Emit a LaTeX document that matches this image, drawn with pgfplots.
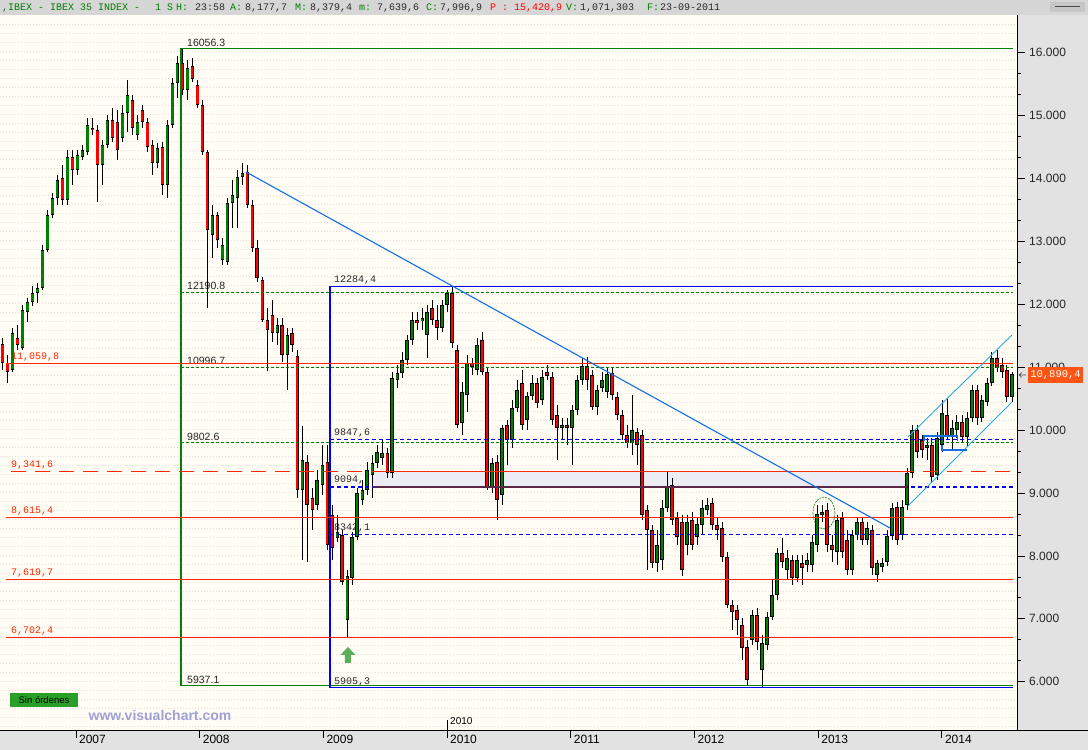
\documentclass[border=0pt]{standalone}
\usepackage{pgfplots}
\pgfplotsset{compat=1.18}
\usepackage{pgfplotstable}
\usepackage{fontspec}
\setmainfont{Liberation Sans}
\newfontfamily\monofont{Liberation Mono}

\definecolor{fibgreen}{RGB}{0,128,0}
\definecolor{fibblue}{RGB}{0,0,255}
\definecolor{lvlred}{RGB}{255,40,0}
\definecolor{trendblue}{RGB}{20,110,230}
\definecolor{chanblue}{RGB}{40,170,230}
\definecolor{candlered}{RGB}{255,0,0}
\definecolor{candlegreen}{RGB}{0,128,0}
\definecolor{panelgray}{RGB}{226,226,226}
\definecolor{headgray}{RGB}{214,214,214}
\definecolor{plotbg}{RGB}{255,253,244}
\definecolor{dotpink}{RGB}{244,214,224}
\definecolor{bandgray}{RGB}{236,236,244}
\definecolor{banddark}{RGB}{90,40,70}
\definecolor{tagorange}{RGB}{255,85,20}
\definecolor{hdrgreen}{RGB}{0,128,0}
\definecolor{hdrdark}{RGB}{40,40,40}
\definecolor{watermark}{RGB}{160,160,215}
\definecolor{boxgreen}{RGB}{40,160,40}
\definecolor{arrowgreen}{RGB}{90,175,90}
\definecolor{circgreen}{RGB}{0,110,0}

\tikzset{
  lbl/.style={anchor=south west, inner sep=0pt, yshift=2bp, font=\fontsize{10.5bp}{12bp}\selectfont},
  mlbl/.style={anchor=south west, inner sep=0pt, yshift=2bp, font=\monofont\fontsize{10bp}{12bp}\selectfont},
}
\pgfplotsset{
  lvl/.style={forget plot, mark=none, line width=1.1bp, solid, #1},
}

% weekly IBEX 35 candles, sampled every two weeks: x o h l c
\pgfplotstableread{
x o h l c
2006.406 11366 11462 10953 11064
2006.446 11064 11192 10746 10921
2006.487 10953 11620 10921 11541
2006.527 11462 11668 11271 11351
2006.568 11303 11986 11271 11906
2006.608 11874 12097 11715 12033
2006.648 12033 12288 11970 12176
2006.689 12176 12335 12017 12256
2006.729 12256 12939 12224 12860
2006.770 12860 13495 12828 13416
2006.810 13416 13765 13368 13686
2006.850 13686 14051 13575 13972
2006.891 14004 14210 13575 13654
2006.931 13654 14448 13575 14337
2006.972 14337 14448 13893 14130
2007.012 14130 14448 14051 14369
2007.052 14337 14528 14289 14448
2007.093 14416 14957 14369 14846
2007.133 14798 14957 14687 14766
2007.174 14766 14846 13622 14210
2007.214 14210 14607 13893 14528
2007.254 14528 15005 14480 14925
2007.295 14925 15115 14575 14639
2007.335 14893 15084 14289 14448
2007.376 14639 15163 14575 15036
2007.416 15036 15560 14734 15322
2007.456 15242 15322 14687 14798
2007.497 14687 15005 14607 14893
2007.537 15084 15163 14798 14893
2007.578 14893 14957 14416 14496
2007.618 14528 14607 14051 14241
2007.658 14241 14559 14162 14480
2007.699 14496 14575 13734 13893
2007.739 13893 14925 13686 14846
2007.780 14846 15592 14798 15512
2007.820 15512 15942 15274 15830
2007.860 15830 16056 15322 15401
2007.901 15401 15878 15242 15751
2007.941 15783 15910 15528 15576
2007.982 15481 15560 15116 15163
2008.022 15163 15242 14369 14416
2008.062 14416 14448 11938 13177
2008.103 13098 13575 12733 13416
2008.143 13416 13463 12891 13018
2008.184 12701 13050 12621 12939
2008.224 12669 13686 12621 13606
2008.264 13606 13972 13209 13734
2008.305 13686 14130 13209 14019
2008.345 14019 14241 13893 14082
2008.386 14098 14210 13527 13575
2008.426 13575 13654 12828 12891
2008.466 12891 13018 12351 12415
2008.507 12383 12431 11715 11747
2008.547 11747 11938 10937 11589
2008.588 11827 12065 11398 11541
2008.628 11541 11779 11351 11668
2008.668 11668 11779 11080 11192
2008.709 11192 11620 10635 11510
2008.749 11541 11620 11239 11351
2008.790 11176 11271 8920 9047
2008.830 9047 10064 7935 9523
2008.870 9491 9603 7903 8809
2008.911 8920 9079 8411 8729
2008.951 8809 9365 8729 9206
2008.992 9127 9762 8968 9444
2009.032 9491 9762 8094 8173
2009.072 8650 8809 7935 8126
2009.113 8284 8650 8221 8379
2009.153 8332 8411 7538 7585
2009.194 6982 7776 6702 7681
2009.234 7649 8379 7538 8300
2009.274 8300 9079 8253 9000
2009.315 8888 9206 8809 9047
2009.355 9047 9491 8968 9365
2009.396 9285 9603 8920 9476
2009.436 9476 9762 9397 9650
2009.476 9555 9841 9444 9635
2009.517 9635 9714 9238 9317
2009.557 9317 10921 9238 10826
2009.598 10794 11032 10667 10905
2009.638 10905 11239 10826 11112
2009.678 11112 11510 11032 11430
2009.719 11430 11874 11351 11747
2009.759 11747 11874 11589 11700
2009.800 11731 11938 11589 11779
2009.840 11510 11986 11144 11874
2009.880 11938 12065 11668 11747
2009.921 11747 11986 11430 11620
2009.961 11620 12065 11557 11986
2010.002 11986 12224 11874 12176
2010.042 12176 12284 11303 11382
2010.082 11271 11351 10032 10080
2010.123 10112 10762 9921 10603
2010.163 10556 11192 10286 11064
2010.204 11064 11144 10874 11001
2010.244 10953 11462 10874 11351
2010.284 11430 11557 10874 10921
2010.325 10921 10985 9047 9095
2010.365 9095 9555 9000 9476
2010.406 9491 9603 8570 8888
2010.446 8968 10080 8809 10032
2010.486 10080 10159 9444 9841
2010.527 9841 10477 9714 10350
2010.567 10350 10794 10286 10635
2010.608 10746 10953 10000 10080
2010.648 10159 10603 10000 10540
2010.688 10540 10874 10477 10746
2010.729 10746 10826 10350 10429
2010.769 10477 10953 10397 10842
2010.810 10921 11032 10794 10858
2010.850 10842 10921 10080 10159
2010.890 10238 10397 9523 10032
2010.931 10032 10191 9841 10080
2010.971 10080 10191 9762 10032
2011.012 10032 10397 9444 10318
2011.052 10318 10874 10238 10794
2011.092 10794 11144 10715 11016
2011.133 11016 11160 10635 10794
2011.173 10874 10953 10318 10366
2011.214 10366 10715 10238 10635
2011.254 10667 10921 10603 10794
2011.294 10603 10985 10508 10890
2011.335 10905 10985 10477 10556
2011.375 10524 10603 10159 10238
2011.416 10238 10318 9841 9921
2011.456 9921 10080 9714 9794
2011.496 9794 10556 9603 10000
2011.537 9968 10032 9444 9762
2011.577 9921 10000 8570 8650
2011.618 8729 8809 7776 8411
2011.658 8411 8491 7808 7887
2011.698 7887 8411 7744 8173
2011.739 7935 8888 7776 8761
2011.779 8761 9333 8697 9111
2011.820 9127 9238 8491 8570
2011.860 8602 8697 8173 8300
2011.900 8538 8650 7681 7776
2011.941 8173 8650 8015 8538
2011.981 8570 8697 8094 8173
2012.022 8300 8602 8173 8506
2012.062 8491 8888 8332 8761
2012.102 8729 8920 8650 8809
2012.143 8840 8920 8411 8491
2012.183 8491 8602 8253 8411
2012.224 8443 8538 7903 7983
2012.264 7983 8062 7173 7220
2012.304 7220 7299 6823 7109
2012.345 7141 7220 6744 6982
2012.385 6903 7014 6346 6537
2012.426 6553 6664 5937 6029
2012.466 6664 7141 6585 7061
2012.506 7061 7173 6505 6632
2012.547 6188 6744 5905 6616
2012.587 6585 7109 6505 7030
2012.628 7030 7617 6982 7379
2012.668 7379 8126 7299 8046
2012.708 8046 8284 7808 7903
2012.749 7776 8094 7617 7967
2012.789 7935 8015 7538 7649
2012.830 7649 8015 7585 7935
2012.870 7887 8015 7538 7808
2012.910 7856 8046 7744 7935
2012.951 7856 8332 7744 8221
2012.991 8173 8809 8062 8665
2013.032 8650 8809 8538 8697
2013.072 8729 8840 8062 8173
2013.112 8173 8332 7903 8094
2013.153 8062 8650 7856 8570
2013.193 8602 8697 7967 8062
2013.234 8253 8411 7697 7776
2013.274 7776 8411 7697 8332
2013.314 8332 8602 8253 8538
2013.355 8538 8602 8173 8253
2013.395 8253 8538 8173 8443
2013.436 8411 8491 7697 7808
2013.476 7697 7935 7585 7887
2013.516 7824 7967 7744 7887
2013.557 7903 8411 7840 8316
2013.597 8316 8840 8253 8761
2013.638 8777 8856 8173 8253
2013.678 8332 8888 8253 8777
2013.718 8809 9397 8729 9317
2013.759 9317 10080 9238 10000
2013.799 10000 10080 9555 9650
2013.840 9841 9921 9555 9682
2013.880 9714 9873 9523 9762
2013.920 9762 9873 9174 9254
2013.961 9285 9968 9206 9873
2014.001 9762 10477 9650 10270
2014.042 10238 10508 9841 9889
2014.082 9889 10159 9682 10032
2014.122 10000 10238 9873 10127
2014.163 10127 10238 9810 9889
2014.203 9889 10286 9730 10191
2014.244 10191 10715 10127 10635
2014.284 10635 10715 10080 10191
2014.324 10191 10556 10127 10477
2014.365 10445 10826 10381 10746
2014.405 10746 11239 10699 11144
2014.446 11144 11271 10921 10985
2014.486 11032 11144 10826 10921
2014.526 10953 11032 10445 10524
2014.567 10524 10921 10445 10890
}\candles

\begin{document}
\begin{tikzpicture}[x=1bp,y=1bp]
\path[use as bounding box] (0,0) rectangle (1088,750);
\fill[panelgray] (0,0) rectangle (1088,735);
\fill[plotbg] (0,20) rectangle (1017,735);
\fill[headgray] (0,735) rectangle (1088,750);
\foreach \yy in {24,33,...,732}
  \draw[dotpink, line width=0.7bp, dash pattern=on 0.8bp off 2.2bp] (0,\yy) -- (1016,\yy);

\begin{axis}[
  at={(0bp,20bp)}, anchor=south west,
  width=1017bp, height=715bp, scale only axis,
  xmin=2006.386, xmax=2014.608, ymin=5234, ymax=16593,
  scaled x ticks=false, scaled y ticks=false,
  axis x line*=bottom, axis y line*=right,
  axis line style={-, black, line width=0.9bp},
  xtick={2007,2008,...,2014},
  xticklabels={2007,2008,2009,2010,2011,2012,2013,2014},
  ytick={6000,7000,...,16000},
  yticklabels={6.000,7.000,8.000,9.000,10.000,11.000,12.000,13.000,14.000,15.000,16.000},
  minor y tick num=2,
  tick align=outside,
  major tick length=8bp, minor tick length=4bp,
  tick style={black, line width=0.7bp},
  xticklabel style={anchor=north west, inner sep=0pt, xshift=3bp, yshift=3bp, font=\fontsize{12bp}{13bp}\selectfont},
  yticklabel style={anchor=west, inner sep=0pt, xshift=4bp, font=\fontsize{12bp}{13bp}\selectfont, text=black!85},
]
% shaded band between 9094,9 and 9341,6
\fill[bandgray] (axis cs:2009.402,9094.85) rectangle (axis cs:2013.718,9341.6);

% level labels (under the candles)
\node[lbl, text=black!85] at (axis cs:2007.898,16056.3) {16056.3};
\node[lbl, text=black!85] at (axis cs:2007.898,12190.8) {12190.8};
\node[lbl, text=black!85] at (axis cs:2007.898,10996.7) {10996.7};
\node[lbl, text=black!85] at (axis cs:2007.898,9802.6) {9802.6};
\node[lbl, text=black!85] at (axis cs:2007.898,5937.1) {5937.1};
\node[mlbl, text=black!85] at (axis cs:2009.086,12284.4) {12284,4};
\node[mlbl, text=black!85] at (axis cs:2009.086,9847.6) {9847,6};
\node[mlbl, text=black!85] at (axis cs:2009.086,9094.85) {9094,};
\node[mlbl, text=black!85] at (axis cs:2009.086,8342.1) {8342,1};
\node[mlbl, text=black!85, yshift=-1bp] at (axis cs:2009.086,5905.3) {5905,3};
\node[mlbl, text=lvlred] at (axis cs:2006.475,11059.8) {11,059,8};
\node[mlbl, text=lvlred] at (axis cs:2006.475,9341.6) {9,341,6};
\node[mlbl, text=lvlred] at (axis cs:2006.475,8615.4) {8,615,4};
\node[mlbl, text=lvlred] at (axis cs:2006.475,7619.7) {7,619,7};
\node[mlbl, text=lvlred] at (axis cs:2006.475,6702.4) {6,702,4};

% candles: wicks, body outline, red bodies, green bodies
\addplot[draw=none, mark=none, forget plot, error bars/.cd, y dir=both, y explicit, error mark=none,
  error bar style={draw=black, line width=0.9bp}]
  table[x=x, y expr={(\thisrow{h}+\thisrow{l})/2}, y error expr={(\thisrow{h}-\thisrow{l})/2}] {\candles};
\addplot[draw=none, mark=none, forget plot, error bars/.cd, y dir=both, y explicit, error mark=none,
  error bar style={draw=black, line width=3.6bp}]
  table[x=x, y expr={(\thisrow{o}+\thisrow{c})/2}, y error expr={max(abs(\thisrow{c}-\thisrow{o})/2,9)}] {\candles};
\addplot[draw=none, mark=none, forget plot, error bars/.cd, y dir=both, y explicit, error mark=none,
  error bar style={draw=candlered, line width=2.2bp}]
  table[x=x, y expr={(\thisrow{o}+\thisrow{c})/2}, y error expr={max((\thisrow{o}-\thisrow{c})/2-10,0)}] {\candles};
\addplot[draw=none, mark=none, forget plot, error bars/.cd, y dir=both, y explicit, error mark=none,
  error bar style={draw=candlegreen, line width=2.2bp}]
  table[x=x, y expr={(\thisrow{o}+\thisrow{c})/2}, y error expr={max((\thisrow{c}-\thisrow{o})/2-10,0)}] {\candles};

% green retracement 16056,3 -> 5937,1
\addplot[lvl={draw=fibgreen}] coordinates {(2007.849,5937.1) (2007.849,16056.3) (2014.575,16056.3)};
\addplot[lvl={draw=fibgreen}] coordinates {(2007.849,5937.1) (2014.575,5937.1)};
\addplot[lvl={draw=fibgreen, dash pattern=on 3bp off 2bp}] coordinates {(2007.849,12190.8) (2014.575,12190.8)};
\addplot[lvl={draw=fibgreen, dash pattern=on 3bp off 2bp}] coordinates {(2007.849,10996.7) (2014.575,10996.7)};
\addplot[lvl={draw=fibgreen, dash pattern=on 3bp off 2bp}] coordinates {(2007.849,9802.6) (2014.575,9802.6)};

% blue retracement 5905,3 -> 12284,4
\addplot[lvl={draw=fibblue}] coordinates {(2009.054,5905.3) (2009.054,12284.4) (2014.575,12284.4)};
\addplot[lvl={draw=fibblue}] coordinates {(2009.054,5905.3) (2014.575,5905.3)};
\addplot[lvl={draw=fibblue, dash pattern=on 4bp off 3bp}] coordinates {(2009.054,9847.6) (2014.575,9847.6)};
\addplot[lvl={draw=fibblue, dash pattern=on 4bp off 3bp}] coordinates {(2009.054,9094.85) (2014.575,9094.85)};
\addplot[lvl={draw=fibblue, dash pattern=on 4bp off 3bp}] coordinates {(2009.054,8342.1) (2014.575,8342.1)};

% red support / resistance levels
\addplot[lvl={draw=lvlred}] coordinates {(2006.435,11059.8) (2014.575,11059.8)};
\addplot[lvl={draw=lvlred, dash pattern=on 15bp off 9bp}] coordinates {(2006.475,9341.6) (2014.575,9341.6)};
\addplot[lvl={draw=lvlred}] coordinates {(2006.435,8615.4) (2014.575,8615.4)};
\addplot[lvl={draw=lvlred}] coordinates {(2006.435,7619.7) (2014.575,7619.7)};
\addplot[lvl={draw=lvlred}] coordinates {(2006.435,6702.4) (2014.575,6702.4)};
\addplot[lvl={draw=lvlred}] coordinates {(2009.402,9341.6) (2013.718,9341.6)};
\addplot[lvl={draw=banddark}] coordinates {(2009.402,9094.85) (2013.718,9094.85)};

% trend line and channel
\addplot[lvl={draw=trendblue}] coordinates {(2008.375,14099) (2013.581,8443)};
\addplot[lvl={draw=chanblue, line width=0.9bp}] coordinates {(2013.726,9889) (2014.567,11509)};
\addplot[lvl={draw=chanblue, line width=0.9bp}] coordinates {(2013.726,8793) (2014.567,10445)};
\addplot[lvl={draw=trendblue}] coordinates {(2013.856,9825) (2013.856,9905) (2014.123,9905) (2014.123,9825)};
\addplot[lvl={draw=trendblue}] coordinates {(2014.001,9760) (2014.001,9682) (2014.204,9682)};

% marks
\draw[circgreen, line width=0.6bp, dash pattern=on 2bp off 1bp] (axis cs:2013.047,8681) ellipse [x radius=11bp, y radius=16bp];
\fill[arrowgreen] (axis cs:2009.199,6553) -- ++(-7.5bp,-8bp) -- ++(4.5bp,0bp) -- ++(0bp,-8bp)
  -- ++(6bp,0bp) -- ++(0bp,8bp) -- ++(4.5bp,0bp) -- cycle;
\end{axis}

% bottom line runs under the price scale too
\draw[black, line width=0.9bp] (1017,20) -- (1088,20);

% extra 2010 marker
\draw[black, line width=0.7bp] (447,20) -- (447,30);
\node[anchor=west, inner sep=0pt, font=\fontsize{10bp}{11bp}\selectfont] at (450,29) {2010};

% status box and watermark
\fill[boxgreen] (10,43) rectangle (78,57);
\node[inner sep=0pt, font=\fontsize{9.5bp}{10bp}\selectfont] at (44,50) {Sin órdenes};
\node[inner sep=0pt, text=watermark, font=\bfseries\fontsize{14bp}{15bp}\selectfont] at (160,35) {www.visualchart.com};

% last price tag
\fill[tagorange] (1028,367) rectangle (1083,383);
\node[inner sep=0pt, text=white, font=\monofont\fontsize{10.5bp}{12bp}\selectfont] at (1055.5,375) {10,890,4};
\draw[black!70, line width=0.6bp] (1026,375) -- (1019,375) (1022,377.5) -- (1019,375) -- (1022,372.5);

% header line
\begin{scope}[every node/.style={anchor=base west, inner sep=0pt, font=\monofont\fontsize{10bp}{12bp}\selectfont}]
\node[text=hdrgreen] at (2,739) {,IBEX - IBEX 35 INDEX -};
\node[text=hdrgreen] at (155,739) {1 S};
\node[text=hdrgreen] at (176,739) {H:};
\node[text=hdrdark] at (195,739) {23:58};
\node[text=hdrgreen] at (230,739) {A:};
\node[text=hdrdark] at (245,739) {8,177,7};
\node[text=hdrgreen] at (295,739) {M:};
\node[text=hdrdark] at (310,739) {8,379,4};
\node[text=hdrgreen] at (359,739) {m:};
\node[text=hdrdark] at (377,739) {7,639,6};
\node[text=hdrgreen] at (426,739) {C:};
\node[text=hdrdark] at (440,739) {7,996,9};
\node[text=red] at (490,739) {P : 15,420,9};
\node[text=hdrgreen] at (566,739) {V:};
\node[text=hdrdark] at (580,739) {1,071,303};
\node[text=hdrgreen] at (647,739) {F:};
\node[text=hdrdark] at (660,739) {23-09-2011};
\end{scope}
\fill[gray!45] (1050,738) rectangle (1085,748);
\draw[black!70, line width=1bp] (1055,743) -- (1080,743);
\end{tikzpicture}
\end{document}
